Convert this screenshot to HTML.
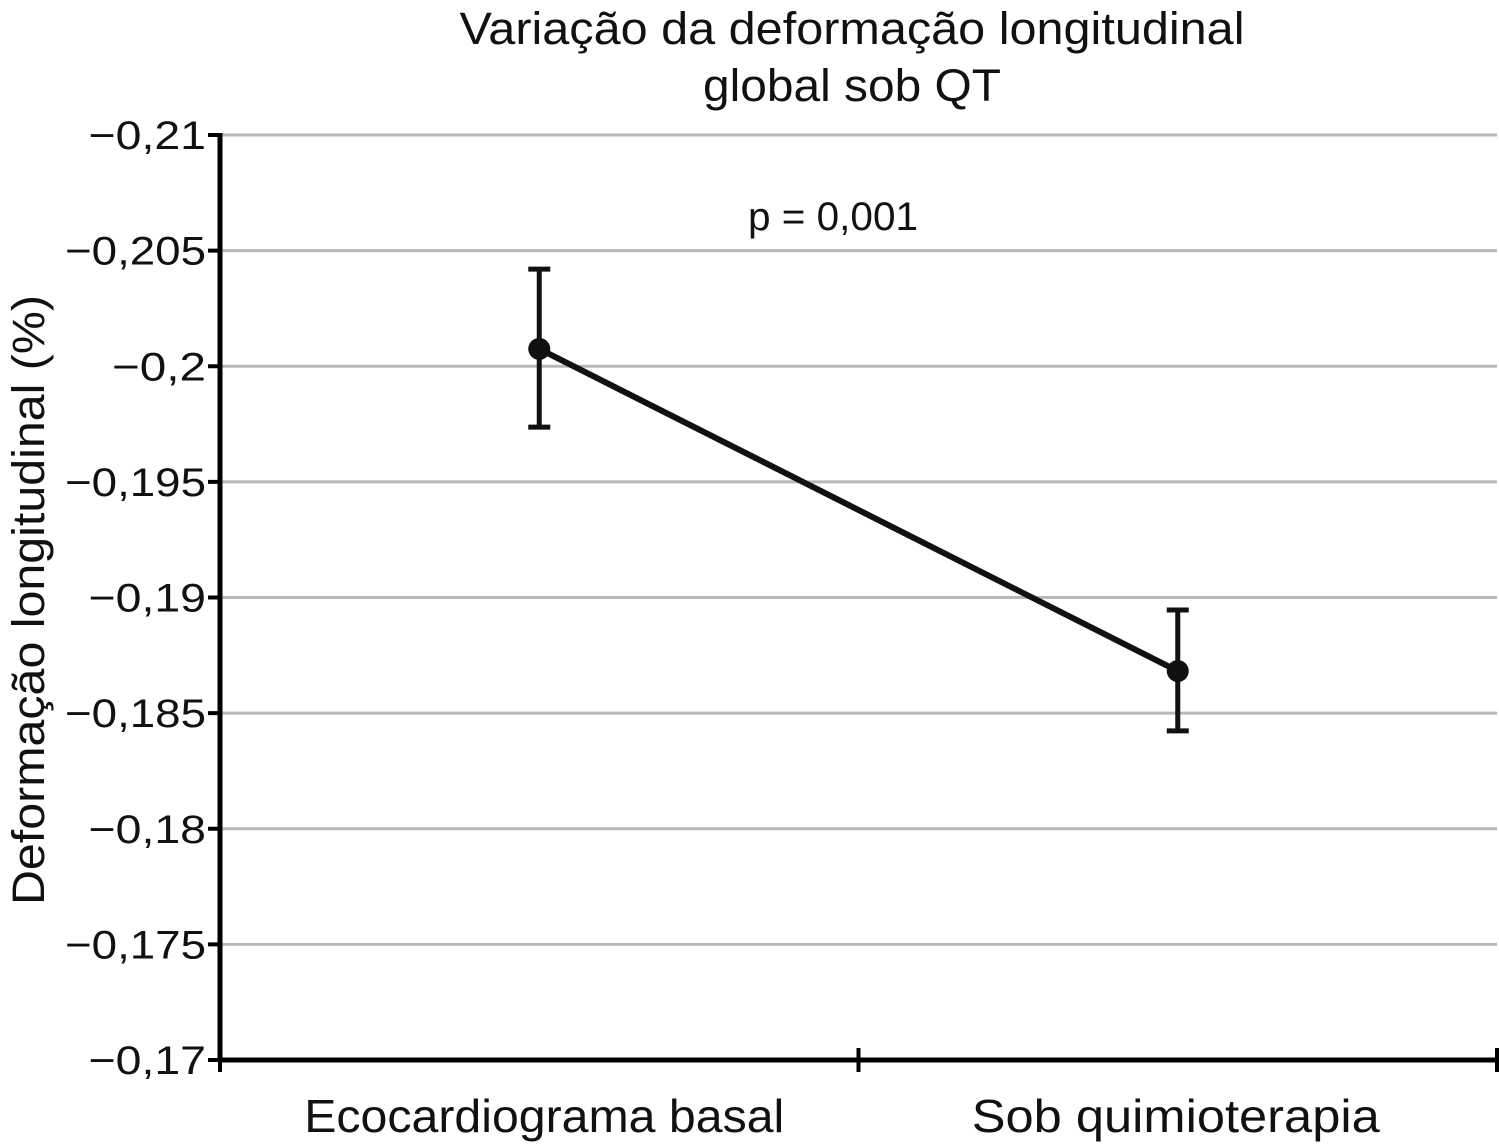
<!DOCTYPE html>
<html><head><meta charset="utf-8"><style>
body{margin:0;background:#fff;}
svg{display:block;font-family:"Liberation Sans",Arial,sans-serif;}
</style></head><body>
<svg id="chart" width="1499" height="1145">
<text x="852" y="44" font-size="45" text-anchor="middle" textLength="785" lengthAdjust="spacingAndGlyphs" fill="#111">Variação da deformação longitudinal</text>
<text x="852" y="101" font-size="45" text-anchor="middle" textLength="298" lengthAdjust="spacingAndGlyphs" fill="#111">global sob QT</text>
<text transform="translate(44,600) rotate(-90)" font-size="45" text-anchor="middle" textLength="610" lengthAdjust="spacingAndGlyphs" fill="#111">Deformação longitudinal (%)</text>
<text x="833" y="230" font-size="40" text-anchor="middle" textLength="170" lengthAdjust="spacingAndGlyphs" fill="#111">p = 0,001</text>
<g id="grid"></g><g id="axes"></g><g id="marks"></g>
</svg>
<script>
const categories=["Ecocardiograma basal","Sob quimioterapia"];
const means=[-0.20075,-0.18682];
const upper=[-0.2042,-0.18946];
const lower=[-0.19737,-0.18423];
const yTicks=[-0.21,-0.205,-0.2,-0.195,-0.19,-0.185,-0.18,-0.175,-0.17];
const yTickLabels=["−0,21","−0,205","−0,2","−0,195","−0,19","−0,185","−0,18","−0,175","−0,17"];
const NS="http://www.w3.org/2000/svg";
const x0=220,x1=1497,yTop=135,yBot=1060,yMin=-0.21,yMax=-0.17;
const y=v=>yTop+(v-yMin)/(yMax-yMin)*(yBot-yTop);
const band=(x1-x0)/categories.length;
const x=i=>x0+band*(i+0.5);
function mk(t,a,p){const e=document.createElementNS(NS,t);for(const k in a)e.setAttribute(k,a[k]);p.appendChild(e);return e;}
const grid=document.getElementById('grid'),axes=document.getElementById('axes'),marks=document.getElementById('marks');
yTicks.forEach((v,i)=>{
 if(i<yTicks.length-1){const g=mk('line',{x1:x0,x2:x1,y1:y(v),y2:y(v),stroke:'#b8b8b8','stroke-width':3},grid);
 
 }
 const t=mk('line',{x1:x0-12,x2:x0,y1:y(v),y2:y(v),stroke:'#000','stroke-width':4},axes);
 
 
 const l=mk('text',{x:x0-14,y:y(v)+14,'font-size':40,'text-anchor':'end',fill:'#111',textLength:yTickLabels[i].length*23.5,lengthAdjust:'spacingAndGlyphs'},axes);l.textContent=yTickLabels[i];
 
 
});
const ya=mk('line',{x1:x0,x2:x0,y1:yTop-2,y2:yBot+2,stroke:'#000','stroke-width':5},axes);


const xa=mk('line',{x1:x0,x2:x1,y1:yBot,y2:yBot,stroke:'#000','stroke-width':5},axes);


for(let i=0;i<=categories.length;i++){const t=mk('line',{x1:x0+band*i,x2:x0+band*i,y1:yBot-12,y2:yBot+12,stroke:'#000','stroke-width':4},axes);
 
 }
categories.forEach((c,i)=>{const l=mk('text',{x:x(i)+(i?-2:5),y:1132,'font-size':46,'text-anchor':'middle',fill:'#111',textLength:c.length*24,lengthAdjust:'spacingAndGlyphs'},axes);l.textContent=c;
 
 });
const pts=means.map((m,i)=>x(i)+','+y(m)).join(' ');
const pl=mk('polyline',{points:pts,fill:'none',stroke:'#111','stroke-width':6},marks);


means.forEach((m,i)=>{
 const eb=mk('path',{d:`M${x(i)},${y(upper[i])}V${y(lower[i])}M${x(i)-11},${y(upper[i])}H${x(i)+11}M${x(i)-11},${y(lower[i])}H${x(i)+11}`,stroke:'#111','stroke-width':5,fill:'none'},marks);
 
 
 const c=mk('circle',{cx:x(i),cy:y(m),r:11,fill:'#111'},marks);
 
 
});
</script>
</body></html>
